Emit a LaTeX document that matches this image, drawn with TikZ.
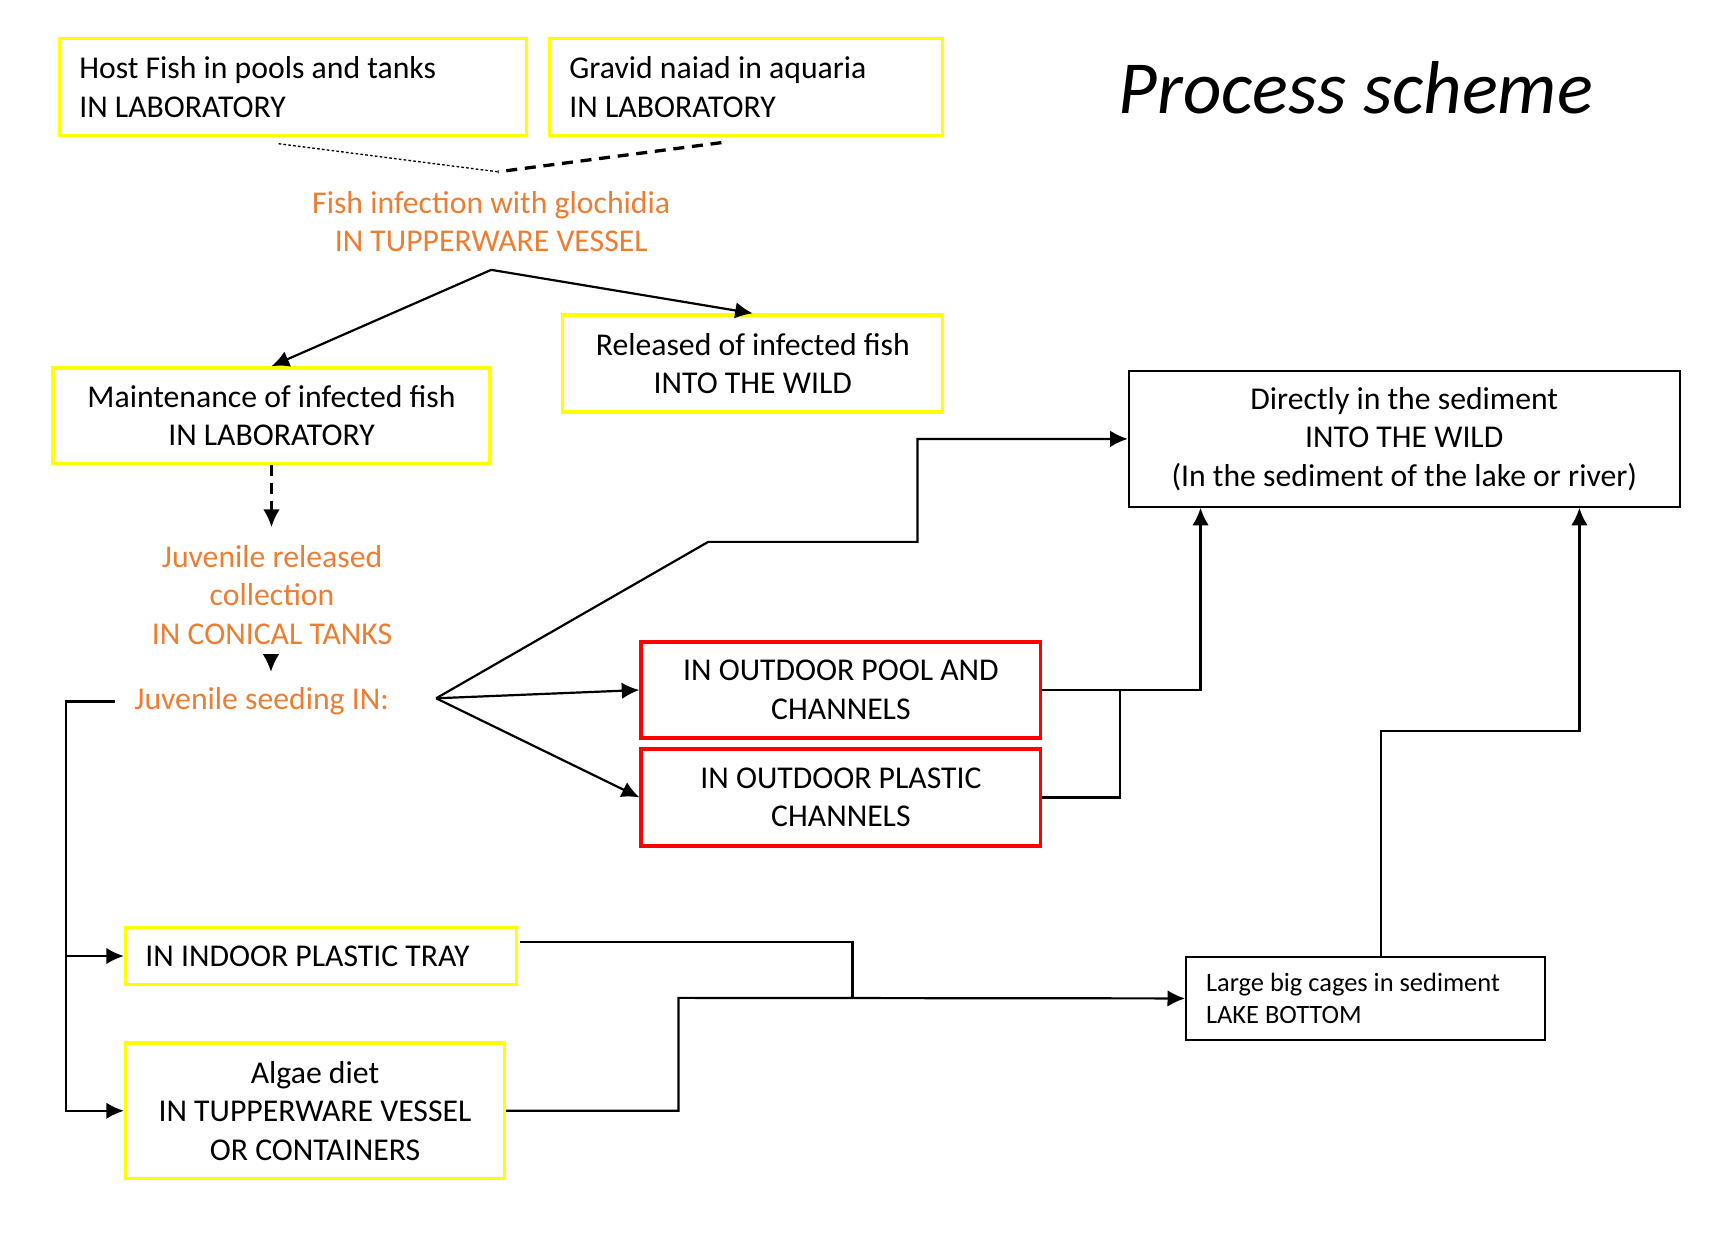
\documentclass[tikz,border=0pt]{standalone}
\usepackage{fontspec}
\setmainfont{Carlito}
\usetikzlibrary{arrows.meta,calc}
\definecolor{boxyellow}{HTML}{FFFF00}
\definecolor{boxred}{HTML}{FF0000}
\definecolor{txtorange}{HTML}{ED7D31}
\newcommand{\nsp}{\spaceskip=0pt\xspaceskip=0pt\relax}
\tikzset{
  basebox/.style={draw, rectangle, inner sep=0pt, line width=1.5pt, font=\fontsize{14.4}{17.5}\selectfont},
  ybox/.style={basebox, draw=boxyellow},
  rbox/.style={basebox, draw=boxred},
  kbox/.style={basebox, draw=black, line width=1pt},
  otext/.style={text=txtorange, align=center, inner sep=0pt, font=\fontsize{14.4}{17.5}\selectfont},
  conn/.style={draw=black, line width=1pt},
  arr/.style={conn, -{Latex[length=8pt,width=7.5pt]}},
}
\begin{document}
\begin{tikzpicture}[x=0.5pt,y=-0.5pt]
\useasboundingbox[fill=white] (0,0) rectangle (1568,1134);

% boxes
\node[ybox, minimum width=212pt, minimum height=44pt, text width=194pt, align=left] (host) at (266,79)
  {\nsp Host Fish in pools and tanks\\IN LABORATORY};
\node[ybox, minimum width=178.5pt, minimum height=44pt, text width=160.5pt, align=left] (gravid) at (677.5,79)
  {\nsp Gravid naiad in aquaria\\IN LABORATORY};
\node[ybox, minimum width=198.5pt, minimum height=43.5pt, align=center] (maint) at (246.5,377.5)
  {Maintenance of infected fish\\IN LABORATORY};
\node[ybox, minimum width=172.5pt, minimum height=44pt, align=center] (released) at (683.5,330)
  {Released of infected fish\\INTO THE WILD};
\node[rbox, minimum width=181.5pt, minimum height=43.5pt, align=center] (pool) at (763.5,626.5)
  {IN OUTDOOR POOL AND\\CHANNELS};
\node[rbox, minimum width=181.5pt, minimum height=44pt, align=center] (plastic) at (763.5,724)
  {IN OUTDOOR PLASTIC\\CHANNELS};
\node[kbox, minimum width=250pt, minimum height=61.5pt, align=center] (direct) at (1275,398.5)
  {Directly in the sediment\\INTO THE WILD\\(In the sediment of the lake or river)};
\node[ybox, minimum width=177.5pt, minimum height=26pt, text width=159.5pt, align=left] (tray) at (291.5,868)
  {\nsp IN INDOOR PLASTIC TRAY};
\node[ybox, minimum width=172pt, minimum height=61.5pt, align=center] (algae) at (286,1008.5)
  {Algae diet\\IN TUPPERWARE VESSEL\\OR CONTAINERS};
\node[kbox, minimum width=163pt, minimum height=37.5pt, text width=145pt, align=left,
  font=\fontsize{12}{14.5}\selectfont] (large) at (1240,906.5)
  {\nsp Large big cages in sediment\\LAKE BOTTOM};

% texts
\node[font=\itshape\fontsize{34}{40}\selectfont, inner sep=0pt] (title) at (1231,80) {Process scheme};
\node[otext] (infect) at (446,201) {Fish infection with glochidia\\IN TUPPERWARE VESSEL};
\node[otext] (juvrel) at (247,540) {Juvenile released\\collection\\IN CONICAL TANKS};
\node[otext] (seeding) at (237.5,637) {Juvenile seeding IN:};

% junction coordinates
\coordinate (j1) at (452,156);
\coordinate (j2) at (446,245);
\coordinate (fk) at (396,634);
\coordinate (s0) at (104,637);
\coordinate (a1) at (246,594);

% top connectors
\draw[line width=0.6pt, dash pattern=on 1.2pt off 1pt] ($(host.south)+(-13,6)$) -- (j1);
\draw[line width=1.5pt, dash pattern=on 5pt off 3.5pt] ($(gravid.south)+(-22.5,5)$) -- (j1);
\draw[arr] (j2) -- (maint.north);
\draw[arr] (j2) -- (released.north);
\draw[arr, dash pattern=on 5pt off 3pt] (maint.south) -- ++(0,56);
\draw[arr] (a1) -- ++(0,16);

% seeding fork
\draw[arr] (fk) -- (643,492) -- (833,492) |- (direct.west);
\draw[arr] (fk) -- (pool.west);
\draw[arr] (fk) -- (plastic.west);

% left branch
\draw[conn] (s0) -- (60,637) -- (60,868);
\draw[arr] (60,637) |- (algae.west);
\draw[arr] (60,868) -- (tray.west);

% outdoor to direct
\draw[arr] (pool.east) -| ($(direct.south west)+(66,0)$);
\draw[conn] (plastic.east) -| (1017,626.5);

% tray/algae to large
\draw[conn] ($(tray.east)+(2,-13)$) -| (774,906);
\draw[arr] (algae.east) -| (616,906) -- (large.west);

% large to direct
\draw[arr] ($(large.north)+(14,0)$) -- (1254,664) -| ($(direct.south east)+(-92,0)$);
\end{tikzpicture}
\end{document}
